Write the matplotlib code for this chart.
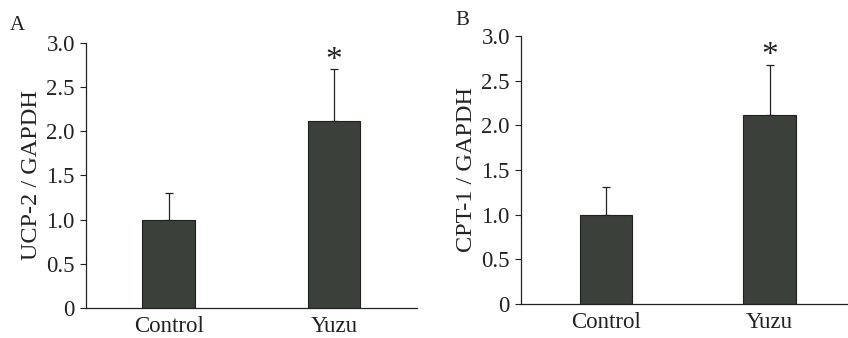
import matplotlib.pyplot as plt

plt.rcParams['font.family'] = ['Liberation Serif', 'DejaVu Serif']

groups = ['Control', 'Yuzu']
ucp2 = [1.0, 2.12]
ucp2_err = [0.30, 0.58]
cpt1 = [1.0, 2.12]
cpt1_err = [0.31, 0.56]
yticks = [0, 0.5, 1.0, 1.5, 2.0, 2.5, 3.0]
ytick_labels = ['0', '0.5', '1.0', '1.5', '2.0', '2.5', '3.0']

bar_color = '#3b403b'
ink = '#222222'

fig = plt.figure(figsize=(8.48, 3.38), dpi=100)
ax_a = fig.add_axes([0.1014, 0.0888, 0.390, 0.784])
ax_b = fig.add_axes([0.6144, 0.1006, 0.3856, 0.793])


def draw_panel(ax, vals, errs, ylabel, xlim):
    pos = range(len(groups))
    ax.bar(pos, vals, width=0.32, color=bar_color, edgecolor='#1e221e',
           linewidth=0.8, zorder=2)
    ax.errorbar(pos, vals, yerr=[[0] * len(errs), errs], fmt='none',
                ecolor=ink, elinewidth=0.9, capsize=3, capthick=0.9, zorder=1)
    # significance mark over the treated group
    ax.text(1, vals[1] + errs[1] - 0.07, '*', ha='center', va='bottom',
            fontsize=24, color=ink)
    ax.set_xlim(*xlim)
    ax.set_ylim(0, 3.0)
    ax.set_yticks(yticks)
    ax.set_yticklabels(ytick_labels)
    ax.set_xticks(list(pos))
    ax.set_xticklabels(groups)
    ax.tick_params(axis='y', direction='out', length=4, width=0.8,
                   labelsize=16.5, colors=ink, pad=4)
    ax.tick_params(axis='x', length=0, labelsize=16.5, colors=ink, pad=6)
    ax.set_ylabel(ylabel, fontsize=17.5, color=ink, labelpad=3)
    for side in ['top', 'right']:
        ax.spines[side].set_visible(False)
    for side in ['left', 'bottom']:
        ax.spines[side].set_linewidth(0.9)
        ax.spines[side].set_color(ink)


draw_panel(ax_a, ucp2, ucp2_err, 'UCP-2 / GAPDH', (-0.5, 1.5))
draw_panel(ax_b, cpt1, cpt1_err, 'CPT-1 / GAPDH', (-0.52, 1.48))

fig.text(10 / 848, 1 - 30 / 338, 'A', fontsize=15, color=ink)
fig.text(455 / 848, 1 - 25 / 338, 'B', fontsize=15, color=ink)

fig.savefig('out.png', dpi=100, facecolor='white')
